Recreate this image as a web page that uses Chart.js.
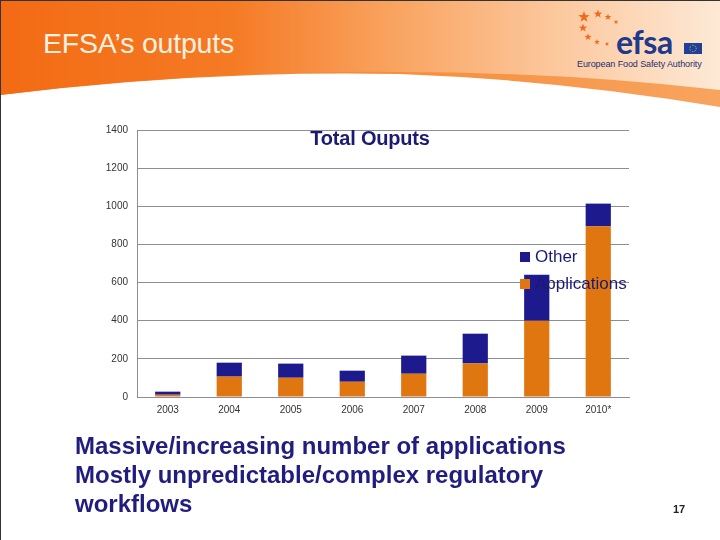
<!DOCTYPE html>
<html>
<head>
<meta charset="utf-8">
<script src="https://cdn.jsdelivr.net/npm/chart.js@4.4.1/dist/chart.umd.min.js"></script>
<style>
  html, body { margin: 0; padding: 0; background: #fff; }
  #slide { position: relative; width: 720px; height: 540px; overflow: hidden; background: #fff;
           font-family: "Liberation Sans", Arial, sans-serif; }
  #edge { position: absolute; left: 0; top: 0; width: 720px; height: 540px; box-sizing: border-box;
          border-top: 1px solid #333; border-left: 1px solid #333; pointer-events: none; z-index: 5; }
  #header { position: absolute; left: 0; top: 0; }
  #slideTitle { position: absolute; left: 43px; top: 27px; font-size: 28.5px; color: #fdf1e0; letter-spacing: -0.2px; }
  #efsa { position: absolute; left: 616px; top: 22px; font-family: "Lato", "Liberation Sans", sans-serif;
          font-weight: bold; font-size: 32px; color: #1f3a8c; letter-spacing: -0.5px; }
  #efsaSub { position: absolute; left: 577px; top: 59px; font-size: 9px; color: #1f2f70; letter-spacing: -0.1px; }
  #chart { position: absolute; left: 0; top: 0; width: 720px; height: 540px; }
  #bullets { position: absolute; left: 75px; top: 431px; font-size: 24px; font-weight: bold; color: #211d7e; line-height: 29px; }
  #pageNo { position: absolute; left: 673px; top: 503px; font-size: 11px; font-weight: bold; color: #222; }
</style>
</head>
<body>
<div id="slide">
  <svg id="header" width="720" height="115">
    <defs>
      <linearGradient id="hg" x1="0" x2="1" y1="0" y2="0">
        <stop offset="0" stop-color="#f36b14"/>
        <stop offset="0.32" stop-color="#f57a24"/>
        <stop offset="0.55" stop-color="#f9a461"/>
        <stop offset="0.78" stop-color="#fcc99f"/>
        <stop offset="1" stop-color="#fde9d6"/>
      </linearGradient>
      <linearGradient id="sg" x1="0" x2="1" y1="0" y2="0">
        <stop offset="0" stop-color="#f37a28"/>
        <stop offset="0.6" stop-color="#f6903f"/>
        <stop offset="1" stop-color="#f8a45f"/>
      </linearGradient>
      <polygon id="st" points="0,-5 1.2,-1.6 4.8,-1.5 1.9,0.6 2.9,4 0,2 -2.9,4 -1.9,0.6 -4.8,-1.5 -1.2,-1.6"/>
    </defs>
    <path d="M0,95 Q200,70 400,74 Q560,80 720,107 L720,0 L0,0 Z" fill="url(#sg)"/>
    <path d="M0,95 Q200,70 400,72 Q560,72 720,90 L720,0 L0,0 Z" fill="url(#hg)"/>
    <g fill="#f06a1e">
      <use href="#st" transform="translate(584,17) scale(1.2)"/>
      <use href="#st" transform="translate(598,14) scale(0.9)"/>
      <use href="#st" transform="translate(608,17) scale(0.7)"/>
      <use href="#st" transform="translate(616,22) scale(0.5)"/>
      <use href="#st" transform="translate(583,28) scale(0.9)"/>
      <use href="#st" transform="translate(588,37) scale(0.75)"/>
      <use href="#st" transform="translate(597,42) scale(0.6)"/>
      <use href="#st" transform="translate(607,44) scale(0.45)"/>
    </g>
    <rect x="684" y="43" width="18" height="11" fill="#1f3f99"/>
    <circle cx="693" cy="48.5" r="3.2" fill="none" stroke="#f2d23a" stroke-width="0.8" stroke-dasharray="0.8 0.9"/>
  </svg>
  <div id="slideTitle">EFSA’s outputs</div>
  <div id="efsa">efsa</div>
  <div id="efsaSub">European Food Safety Authority</div>
  <canvas id="chart" width="720" height="540"></canvas>
  <div id="bullets">Massive/increasing number of applications<br>Mostly unpredictable/complex regulatory<br>workflows</div>
  <div id="pageNo">17</div>
  <div id="edge"></div>
</div>
<script>
const years = ["2003", "2004", "2005", "2006", "2007", "2008", "2009", "2010*"];
const applications = [12, 107, 101, 80, 122, 176, 400, 895];
const other = [16, 73, 74, 58, 95, 156, 241, 119];
const yTicks = [0, 200, 400, 600, 800, 1000, 1200, 1400];

const navy = "#1c1a8c";
const orange = "#e0760f";

// title and legend sit inside the plot, so they are drawn by hand
const overlay = {
    id: "overlay",
    afterDatasetsDraw(chart) {
        const ctx = chart.ctx;
        ctx.save();
        ctx.fillStyle = "#1c1a72";
        ctx.font = "bold 20px 'Liberation Sans', Arial, sans-serif";
        ctx.textAlign = "center";
        ctx.textBaseline = "middle";
        ctx.letterSpacing = "-0.2px";
        ctx.fillText("Total Ouputs", 370, 139);

        ctx.letterSpacing = "0px";
        ctx.textAlign = "left";
        ctx.font = "17px 'Liberation Sans', Arial, sans-serif";
        const items = [["Other", navy, 257], ["Applications", orange, 284]];
        items.forEach(([label, colour, y]) => {
            ctx.fillStyle = colour;
            ctx.fillRect(520, y - 5, 10, 10);
            ctx.fillStyle = "#1c1a72";
            ctx.fillText(label, 535, y);
        });
        ctx.restore();
    },
};

new Chart(document.getElementById("chart"), {
    type: "bar",
    data: {
        labels: years,
        datasets: [
            { label: "Applications", data: applications, backgroundColor: orange },
            { label: "Other", data: other, backgroundColor: navy },
        ],
    },
    options: {
        responsive: false,
        animation: false,
        layout: { padding: { left: 100, right: 91, top: 130, bottom: 118 } },
        datasets: { bar: { categoryPercentage: 1, barPercentage: 0.41 } },
        plugins: { legend: { display: false }, tooltip: { enabled: false } },
        scales: {
            x: {
                stacked: true,
                afterFit: (s) => { s.height = 25; },
                grid: { display: false, drawTicks: false },
                border: { display: true, color: "#8c8c9a" },
                ticks: { padding: 7, color: "#333", font: { size: 10, family: "'Liberation Sans', Arial" } },
            },
            y: {
                stacked: true,
                min: 0,
                max: 1400,
                afterFit: (s) => { s.width = 37; },
                afterBuildTicks: (s) => { s.ticks = yTicks.map((v) => ({ value: v })); },
                grid: { color: "#8c8c9a", drawTicks: false },
                border: { display: true, color: "#8c8c9a" },
                ticks: {
                    padding: 9,
                    color: "#333",
                    font: { size: 10, family: "'Liberation Sans', Arial" },
                    callback: (v) => String(v),
                },
            },
        },
    },
    plugins: [overlay],
});
</script>
</body>
</html>
